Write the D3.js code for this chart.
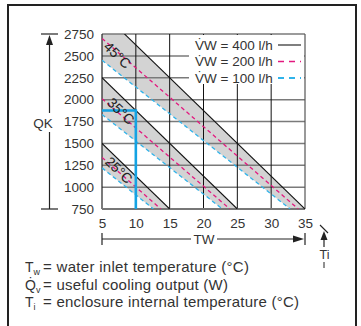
<!DOCTYPE html>
<html><head><meta charset="utf-8">
<script src="https://cdn.jsdelivr.net/npm/d3@7"></script>
<style>body{margin:0;background:#fff}svg{display:block;font-family:"Liberation Sans",Arial,Helvetica,sans-serif}</style>
</head><body>
<script>
// ---------- data ----------
const xTicks = [5, 10, 15, 20, 25, 30, 35];
const yTicks = [750, 1000, 1250, 1500, 1750, 2000, 2250, 2500, 2750];
const bandTemps = ["45°C", "35°C", "25°C"];
// line endpoints [Tw, Q], per internal temperature
const flow400 = [[[5, 3000], [35, 750]], [[5, 2250], [25, 750]], [[5, 1500], [15, 750]]];
const flow200 = [[[5, 2700], [34, 750]], [[5, 2010], [23.9, 750]], [[5, 1340], [13.7, 750]]];
const flow100 = [[[5, 2450], [32.8, 750]], [[5, 1830], [22.8, 750]], [[5, 1220], [12.6, 750]]];
const legendLabels = ["V̇W = 400 l/h", "V̇W = 200 l/h", "V̇W = 100 l/h"];
const examplePath = [[5, 1875], [10, 1875], [10, 750]];
const footSymbols = [["T", "w"], ["Q̇", "v"], ["T", "i"]];
const footTexts = ["= water inlet temperature (°C)", "= useful cooling output (W)", "= enclosure internal temperature (°C)"];

const W = 361, H = 326;
const svg = d3.select("body").append("svg").attr("width", W).attr("height", H);
const x = d3.scaleLinear().domain([5, 35]).range([102, 305]);
const y = d3.scaleLinear().domain([750, 2750]).range([209, 34]);
const txt = "#333";

// outer frame
svg.append("rect").attr("x", 8).attr("y", 5).attr("width", 348).attr("height", 330)
  .attr("fill", "none").attr("stroke", "#222").attr("stroke-width", 2);

svg.append("defs").append("clipPath").attr("id", "clip").append("rect")
  .attr("x", x(5)).attr("y", y(2750)).attr("width", x(35) - x(5)).attr("height", y(750) - y(2750));

const plot = svg.append("g").attr("clip-path", "url(#clip)");

// bands
bandTemps.forEach((t, i) => {
  const pts = [flow400[i][0], flow400[i][1], flow100[i][1], flow100[i][0]];
  plot.append("path").attr("d", d3.line().x(d => x(d[0])).y(d => y(d[1]))(pts) + "Z")
    .attr("fill", "#d3d3d3").attr("stroke", "none");
});

// gridlines
svg.append("g").selectAll("line").data(yTicks).join("line")
  .attr("x1", x(5)).attr("x2", x(35)).attr("y1", d => y(d)).attr("y2", d => y(d))
  .attr("stroke", "#7a7a7a").attr("stroke-width", 1.5);
svg.append("g").selectAll("line").data(xTicks.slice(1, -1)).join("line")
  .attr("x1", d => x(d)).attr("x2", d => x(d)).attr("y1", y(2750)).attr("y2", y(750))
  .attr("stroke", "#111").attr("stroke-width", 1);
svg.append("line").attr("x1", x(5)).attr("x2", x(5)).attr("y1", y(2750)).attr("y2", y(750)).attr("stroke", "#222").attr("stroke-width", 1.2);
svg.append("line").attr("x1", x(35)).attr("x2", x(35)).attr("y1", y(2750)).attr("y2", y(750)).attr("stroke", "#555").attr("stroke-width", 1.2);
svg.append("line").attr("x1", x(5)).attr("x2", x(35)).attr("y1", y(750)).attr("y2", y(750)).attr("stroke", "#777").attr("stroke-width", 2);

// lines
const plot2 = svg.append("g").attr("clip-path", "url(#clip)");
const ln = d3.line().x(d => x(d[0])).y(d => y(d[1]));
flow100.forEach(p => plot2.append("path").attr("d", ln(p)).attr("stroke", "#2fb3ea").attr("stroke-width", 1.3).attr("stroke-dasharray", "4,3").attr("fill", "none"));
flow200.forEach(p => plot2.append("path").attr("d", ln(p)).attr("stroke", "#e3197f").attr("stroke-width", 1.3).attr("stroke-dasharray", "4,3").attr("fill", "none"));
flow400.forEach(p => plot2.append("path").attr("d", ln(p)).attr("stroke", "#111").attr("stroke-width", 1.1).attr("fill", "none"));

// example path
svg.append("path").attr("d", ln(examplePath)).attr("fill", "none").attr("stroke", "#14a3e3").attr("stroke-width", 2.6);

// band labels
const labelPos = [[7.3, 2510], [7.8, 1870], [7.5, 1196]];
bandTemps.forEach((t, i) => {
  svg.append("text").attr("transform", `translate(${x(labelPos[i][0])},${y(labelPos[i][1])}) rotate(44)`)
    .attr("text-anchor", "middle").attr("dominant-baseline", "central")
    .attr("font-size", 14).attr("fill", "#222").text(t);
});

// legend
const lg = svg.append("g");
lg.append("rect").attr("x", 189).attr("y", y(2750) + 1).attr("width", x(35) - 189 - 1).attr("height", 49).attr("fill", "#fff");
const lgStyles = [{c: "#555", d: null, w: 1.5}, {c: "#e3197f", d: "6,5", w: 1.5}, {c: "#2fb3ea", d: "6,5", w: 2}];
legendLabels.forEach((l, i) => {
  const yy = 45 + i * 16.5;
  lg.append("text").attr("x", 195).attr("y", yy).attr("dominant-baseline", "central")
    .attr("font-size", 13.5).attr("fill", txt).text(l);
  lg.append("line").attr("x1", 278).attr("x2", 301).attr("y1", yy).attr("y2", yy)
    .attr("stroke", lgStyles[i].c).attr("stroke-width", lgStyles[i].w).attr("stroke-dasharray", lgStyles[i].d);
});

// axes
const ya = svg.append("g").attr("transform", `translate(${x(5)},0)`)
  .call(d3.axisLeft(y).tickValues(yTicks).tickFormat(d3.format("d")).tickSize(0).tickPadding(8));
ya.select(".domain").remove();
ya.selectAll("text").attr("font-size", 13.5).attr("fill", txt).attr("font-family", null);
const xa = svg.append("g").attr("transform", `translate(0,${y(750)})`)
  .call(d3.axisBottom(x).tickValues(xTicks).tickFormat(d3.format("d")).tickSize(0).tickPadding(9));
xa.select(".domain").remove();
xa.selectAll("text").attr("font-size", 13.5).attr("fill", txt).attr("font-family", null);

// Y arrow (QK)
const ax = 49.5;
svg.append("line").attr("x1", 41).attr("x2", 58).attr("y1", y(2750)).attr("y2", y(2750)).attr("stroke", "#222").attr("stroke-width", 1.2);
svg.append("line").attr("x1", 41).attr("x2", 58).attr("y1", y(750)).attr("y2", y(750)).attr("stroke", "#222").attr("stroke-width", 1.2);
svg.append("line").attr("x1", ax).attr("x2", ax).attr("y1", y(2750) + 8).attr("y2", 113).attr("stroke", "#222").attr("stroke-width", 1.2);
svg.append("line").attr("x1", ax).attr("x2", ax).attr("y1", 132).attr("y2", y(750)).attr("stroke", "#222").attr("stroke-width", 1.2);
svg.append("path").attr("d", `M${ax},${y(2750) + 1}L${ax - 3.5},${y(2750) + 11}L${ax + 3.5},${y(2750) + 11}Z`).attr("fill", "#222");
svg.append("text").attr("x", 43).attr("y", 123).attr("text-anchor", "middle").attr("dominant-baseline", "central")
  .attr("font-size", 13.5).attr("fill", txt).text("QK");

// X arrow (TW)
const ay = 239;
svg.append("line").attr("x1", x(5)).attr("x2", x(5)).attr("y1", 233).attr("y2", 245).attr("stroke", "#222").attr("stroke-width", 1.2);
svg.append("line").attr("x1", x(35)).attr("x2", x(35)).attr("y1", 233).attr("y2", 245).attr("stroke", "#222").attr("stroke-width", 1.2);
svg.append("line").attr("x1", x(5)).attr("x2", 191).attr("y1", ay).attr("y2", ay).attr("stroke", "#222").attr("stroke-width", 1.2);
svg.append("line").attr("x1", 217).attr("x2", x(35) - 8).attr("y1", ay).attr("y2", ay).attr("stroke", "#222").attr("stroke-width", 1.2);
svg.append("path").attr("d", `M${x(35) - 1},${ay}L${x(35) - 12},${ay - 3.5}L${x(35) - 12},${ay + 3.5}Z`).attr("fill", "#222");
svg.append("text").attr("x", 204).attr("y", ay).attr("text-anchor", "middle").attr("dominant-baseline", "central")
  .attr("font-size", 13.5).attr("fill", txt).text("TW");

// Ti indicator
svg.append("line").attr("x1", 320).attr("x2", 328).attr("y1", 225).attr("y2", 233).attr("stroke", "#222").attr("stroke-width", 1.1);
svg.append("path").attr("d", "M324,231L320.5,240L327.5,240Z").attr("fill", "#222");
svg.append("line").attr("x1", 324).attr("x2", 324).attr("y1", 238).attr("y2", 247).attr("stroke", "#222").attr("stroke-width", 1.2);
svg.append("text").attr("x", 324.5).attr("y", 255).attr("text-anchor", "middle").attr("dominant-baseline", "central")
  .attr("font-size", 12.5).attr("fill", txt).text("Ti");
svg.append("line").attr("x1", 324).attr("x2", 324).attr("y1", 262).attr("y2", 268).attr("stroke", "#222").attr("stroke-width", 1);

// footnotes
footSymbols.forEach((s, i) => {
  const yy = 272 + i * 17.5;
  const t = svg.append("text").attr("x", 25).attr("y", yy).attr("font-size", 14).attr("fill", txt);
  t.append("tspan").text(s[0]);
  t.append("tspan").attr("font-size", 9).attr("dy", 3).text(s[1]);
  svg.append("text").attr("x", 43).attr("y", yy).attr("font-size", 15).attr("fill", txt)
    .attr("textLength", i === 0 ? 206 : (i === 1 ? 185 : 256)).attr("lengthAdjust", "spacing").text(footTexts[i]);
});
</script>
</body></html>
